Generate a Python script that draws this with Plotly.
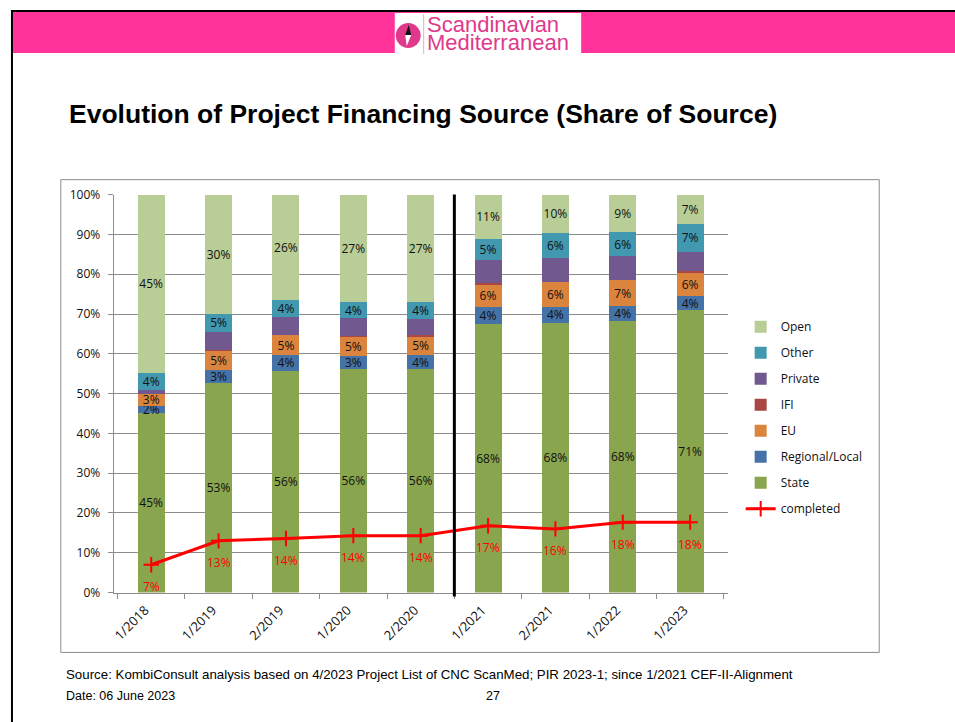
import plotly.graph_objects as go

W, H = 955, 722
# the captured page comes out slightly squeezed and shifted down,
# so picture positions are mapped back to figure pixels
SCALE_Y, SHIFT_Y = 0.979, 7.9


def px(x):
    return x / W


def py(y):
    return 1 - ((y - SHIFT_Y) / SCALE_Y) / H


periods = ['1/2018', '1/2019', '2/2019', '1/2020', '2/2020',
           '1/2021', '2/2021', '1/2022', '1/2023']

# shares in percent
state = [45.2, 52.6, 55.7, 56.1, 56.1, 67.6, 67.8, 68.2, 70.9]
regional = [1.6, 3.4, 4.0, 3.4, 3.6, 4.2, 4.0, 3.7, 3.6]
eu = [3.2, 4.8, 5.0, 4.9, 4.8, 5.6, 6.2, 6.7, 6.0]
ifi = [0.0, 0.2, 0.0, 0.1, 0.1, 0.4, 0.0, 0.0, 0.2]
private = [0.8, 4.5, 4.5, 4.4, 4.1, 5.8, 6.0, 5.9, 5.0]
other = [4.4, 4.6, 4.4, 4.2, 4.3, 5.2, 6.3, 6.1, 7.0]
open_ = [44.8, 29.9, 26.4, 26.9, 27.0, 11.2, 9.7, 9.4, 7.3]

completed = [7.0, 13.0, 13.6, 14.3, 14.3, 16.8, 16.0, 17.7, 17.7]
completed_labels = ['7%', '13%', '14%', '14%', '14%', '17%', '16%', '18%', '18%']

FONT = 'Open Sans'
PINK = '#E0398C'

series = [
    ('State', state, '#89A54E', True),
    ('Regional/Local', regional, '#4572A7', True),
    ('EU', eu, '#DB843D', True),
    ('IFI', ifi, '#AA4643', False),
    ('Private', private, '#71588F', False),
    ('Other', other, '#4198AF', True),
    ('Open', open_, '#B9CD96', True),
]

fig = go.Figure()
n = len(series)
for i, (name, vals, col, labelled) in enumerate(series):
    fig.add_trace(go.Bar(
        x=periods, y=vals, name=name, marker_color=col, marker_line_width=0,
        text=[f'{v:.0f}%' for v in vals] if labelled else None,
        textposition='inside', insidetextanchor='middle', textangle=0,
        textfont=dict(family=FONT, size=12, color='#111111'),
        legendrank=n - i, legendgroup=name,
    ))

fig.add_trace(go.Scatter(
    x=periods, y=completed, name='completed', mode='lines+markers',
    line=dict(color='#FF0000', width=3),
    marker=dict(symbol='cross-thin', size=11, line=dict(color='#FF0000', width=2)),
    legendrank=n + 1, legendgroup='completed',
))

for p, v, lab in zip(periods, completed, completed_labels):
    fig.add_annotation(x=p, y=v, text=lab, showarrow=False, yshift=-22,
                       font=dict(family=FONT, size=12, color='#FF0000'))


def pshape(**kw):
    kw.setdefault('xref', 'paper')
    kw.setdefault('yref', 'paper')
    return kw


def path(points):
    return 'M ' + ' L '.join(f'{px(x)},{py(y)}' for x, y in points) + ' Z'


shapes = [
    # slide frame and pink header
    pshape(type='rect', x0=px(10), x1=px(956), y0=py(52), y1=py(11),
           fillcolor='#FF3399', line_width=0),
    pshape(type='line', x0=px(8), x1=px(956), y0=py(10), y1=py(10),
           line=dict(color='#000000', width=2)),
    pshape(type='line', x0=px(9), x1=px(9), y0=py(10), y1=py(730),
           line=dict(color='#000000', width=2)),
    # logo
    pshape(type='rect', x0=px(393), x1=px(580), y0=py(53), y1=py(12),
           fillcolor='#FFFFFF', line_width=0),
    pshape(type='circle', x0=px(394), x1=px(419), y0=py(47), y1=py(22),
           fillcolor=PINK, line_width=0),
    pshape(type='path', path=path([(407, 24), (409.5, 34), (403.5, 34)]),
           fillcolor='#111111', line_width=0),
    pshape(type='path', path=path([(403.5, 34), (409.5, 34), (405, 45)]),
           fillcolor='#FFFFFF', line_width=0),
    pshape(type='line', x0=px(422), x1=px(422), y0=py(13), y1=py(53),
           line=dict(color='#F2A6CB', width=1)),
    # chart frame
    pshape(type='rect', x0=px(58), x1=px(879), y0=py(653), y1=py(179),
           line=dict(color='#8C8C8C', width=1)),
    # divider between periods
    pshape(type='line', xref='x', x0=4.5, x1=4.5, y0=py(597), y1=py(194),
           line=dict(color='#000000', width=3)),
]

texts = [
    (423, 23, 'Scandinavian', 22, PINK),
    (423, 41, 'Mediterranean', 22, PINK),
    (64, 113, '<b>Evolution of Project Financing Source (Share of Source)</b>', 26.5, '#000000'),
    (61, 675, 'Source: KombiConsult analysis based on 4/2023 Project List of CNC ScanMed; '
              'PIR 2023-1; since 1/2021 CEF-II-Alignment', 13.3, '#000000'),
    (61, 697, 'Date: 06 June 2023', 12.5, '#000000'),
]
for x, y, t, size, col in texts:
    fig.add_annotation(xref='paper', yref='paper', x=px(x), y=py(y), text=t,
                       xanchor='left', yanchor='middle', showarrow=False,
                       font=dict(family='Liberation Sans', size=size, color=col))
fig.add_annotation(xref='paper', yref='paper', x=px(492), y=py(697), text='27',
                   xanchor='center', yanchor='middle', showarrow=False,
                   font=dict(family='Liberation Sans', size=12.5, color='#000000'))

fig.update_layout(
    width=W, height=H, margin=dict(l=0, r=0, t=0, b=0),
    paper_bgcolor='#FFFFFF', plot_bgcolor='#FFFFFF',
    barmode='stack', bargap=0.6,
    shapes=shapes,
    font=dict(family=FONT, size=12, color='#111111'),
    uniformtext=dict(mode='show', minsize=12),
    legend=dict(x=px(740), y=py(312), xanchor='left', yanchor='top',
                traceorder='grouped', tracegroupgap=7,
                font=dict(family=FONT, size=12, color='#111111'),
                bgcolor='rgba(0,0,0,0)'),
    xaxis=dict(domain=[px(111), px(727)], showline=True, linecolor='#8C8C8C',
               ticks='outside', tickson='boundaries', ticklen=5, tickcolor='#8C8C8C',
               tickangle=-45, showgrid=False, ticklabelshift=-6, ticklabelstandoff=4,
               tickfont=dict(family=FONT, size=13, color='#111111')),
    yaxis=dict(domain=[py(593), py(194)], range=[0, 100], dtick=10, ticksuffix='%',
               showline=True, linecolor='#8C8C8C', ticks='outside', ticklen=5,
               tickcolor='#8C8C8C', gridcolor='#8C8C8C', gridwidth=1, zeroline=False,
               ticklabelstandoff=5,
               tickfont=dict(family=FONT, size=12, color='#111111')),
)

fig.write_html('out.html', config={'displayModeBar': False},
               post_script="document.body.style.margin='0';")
